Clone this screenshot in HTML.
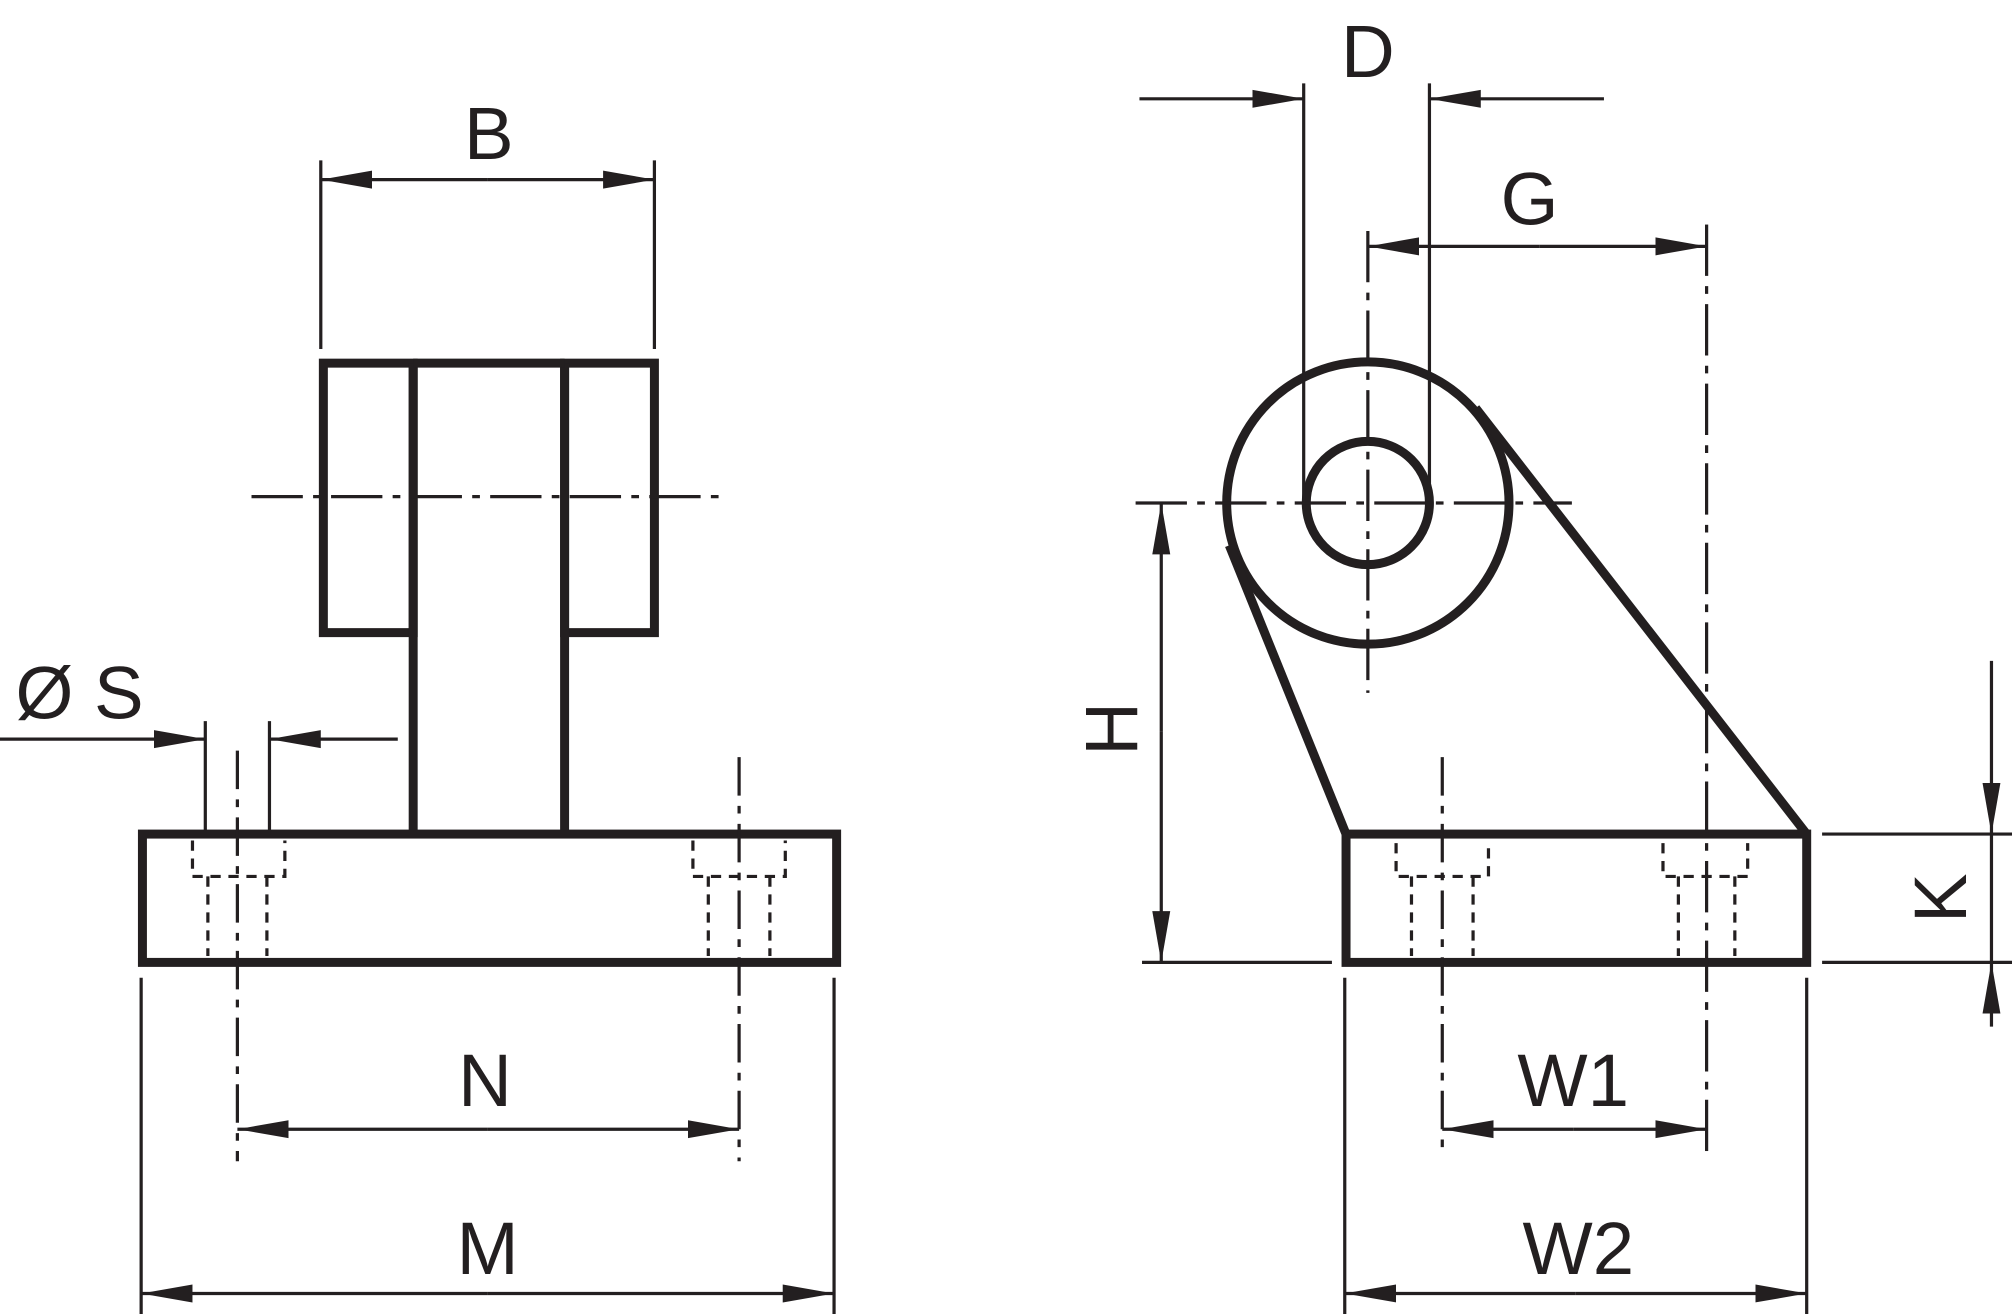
<!DOCTYPE html>
<html><head><meta charset="utf-8"><style>
html,body{margin:0;padding:0;background:#fff;}
svg{display:block}
text{font-family:"Liberation Sans",sans-serif;font-size:58px;fill:#231f20;text-anchor:middle}
</style></head><body>
<svg width="2012" height="1314" viewBox="0 0 1568 1024" preserveAspectRatio="none" xmlns="http://www.w3.org/2000/svg">
<defs>
<marker id="a" markerWidth="40" markerHeight="16" refX="40" refY="8" orient="auto" markerUnits="userSpaceOnUse"><path d="M0,1 L40,8 L0,15 z" fill="#231f20"/></marker>
</defs>
<g stroke="#231f20" fill="none">
<!-- LEFT VIEW -->
<g stroke-width="7">
<rect x="252" y="283" width="70" height="210"/>
<rect x="440" y="283" width="70" height="210"/>
<line x1="322" y1="283" x2="322" y2="650"/>
<line x1="440" y1="283" x2="440" y2="650"/>
<line x1="322" y1="283" x2="440" y2="283"/>
<rect x="111" y="650" width="541" height="100"/>
</g>
<g stroke-width="2.5">
<line x1="196" y1="387" x2="565" y2="387" stroke-dasharray="40,8,6,8"/>
<line x1="250" y1="125" x2="250" y2="272"/>
<line x1="510" y1="125" x2="510" y2="272"/>
<line x1="380" y1="140" x2="250" y2="140" marker-end="url(#a)"/>
<line x1="380" y1="140" x2="510" y2="140" marker-end="url(#a)"/>
<line x1="160" y1="562" x2="160" y2="648"/>
<line x1="210" y1="562" x2="210" y2="648"/>
<line x1="0" y1="576" x2="160" y2="576" marker-end="url(#a)"/>
<line x1="310" y1="576" x2="210" y2="576" marker-end="url(#a)"/>
<g stroke-dasharray="8,6">
<path d="M150 655 V683 H222 V655 M162 683 V745 M208 683 V745"/>
<path d="M540 655 V683 H612 V655 M552 683 V745 M600 683 V745"/>
</g>
<line x1="185" y1="585" x2="185" y2="905" stroke-dasharray="30,8,6,8"/>
<line x1="576" y1="590" x2="576" y2="905" stroke-dasharray="30,8,6,8"/>
<line x1="380" y1="880" x2="185" y2="880" marker-end="url(#a)"/>
<line x1="380" y1="880" x2="576" y2="880" marker-end="url(#a)"/>
<line x1="110" y1="762" x2="110" y2="1024"/>
<line x1="650" y1="762" x2="650" y2="1024"/>
<line x1="380" y1="1008" x2="110" y2="1008" marker-end="url(#a)"/>
<line x1="380" y1="1008" x2="650" y2="1008" marker-end="url(#a)"/>
</g>
<!-- RIGHT VIEW -->
<g stroke-width="7">
<circle cx="1066" cy="392" r="110"/>
<circle cx="1066" cy="392" r="48"/>
<line x1="958" y1="425" x2="1049" y2="650"/>
<line x1="1150" y1="318" x2="1408" y2="650"/>
<rect x="1049" y="650" width="359" height="100"/>
</g>
<g stroke-width="2.5">
<line x1="885" y1="392" x2="1225" y2="392" stroke-dasharray="40,8,6,8"/>
<line x1="1066" y1="180" x2="1066" y2="540" stroke-dasharray="40,8,6,8"/>
<line x1="1330" y1="175" x2="1330" y2="900" stroke-dasharray="40,8,6,8"/>
<line x1="1124" y1="590" x2="1124" y2="900" stroke-dasharray="30,8,6,8"/>
<line x1="1016" y1="65" x2="1016" y2="392"/>
<line x1="1114" y1="65" x2="1114" y2="392"/>
<line x1="888" y1="77" x2="1016" y2="77" marker-end="url(#a)"/>
<line x1="1250" y1="77" x2="1114" y2="77" marker-end="url(#a)"/>
<line x1="1200" y1="192" x2="1066" y2="192" marker-end="url(#a)"/>
<line x1="1200" y1="192" x2="1330" y2="192" marker-end="url(#a)"/>
<line x1="890" y1="750" x2="1038" y2="750"/>
<line x1="905" y1="570" x2="905" y2="392" marker-end="url(#a)"/>
<line x1="905" y1="570" x2="905" y2="750" marker-end="url(#a)"/>
<line x1="1420" y1="650" x2="1568" y2="650"/>
<line x1="1420" y1="750" x2="1568" y2="750"/>
<line x1="1552" y1="515" x2="1552" y2="650" marker-end="url(#a)"/>
<line x1="1552" y1="800" x2="1552" y2="750" marker-end="url(#a)"/>
<line x1="1552" y1="650" x2="1552" y2="750"/>
<g stroke-dasharray="8,6">
<path d="M1088 657 V683 H1160 V657 M1100 683 V745 M1148 683 V745"/>
<path d="M1296 657 V683 H1362 V657 M1308 683 V745 M1352 683 V745"/>
</g>
<line x1="1226" y1="880" x2="1124" y2="880" marker-end="url(#a)"/>
<line x1="1226" y1="880" x2="1330" y2="880" marker-end="url(#a)"/>
<line x1="1048" y1="762" x2="1048" y2="1024"/>
<line x1="1408" y1="762" x2="1408" y2="1024"/>
<line x1="1228" y1="1008" x2="1048" y2="1008" marker-end="url(#a)"/>
<line x1="1228" y1="1008" x2="1408" y2="1008" marker-end="url(#a)"/>
</g>
</g>
<text x="381" y="124">B</text>
<text x="62" y="560">Ø S</text>
<text x="378" y="862">N</text>
<text x="380" y="993">M</text>
<text x="1066" y="60">D</text>
<text x="1192" y="175">G</text>
<text x="1226" y="862">W1</text>
<text x="1230" y="993">W2</text>
<text transform="translate(886,568) rotate(-90)">H</text>
<text transform="translate(1532,700) rotate(-90)">K</text>
</svg>
</body></html>
